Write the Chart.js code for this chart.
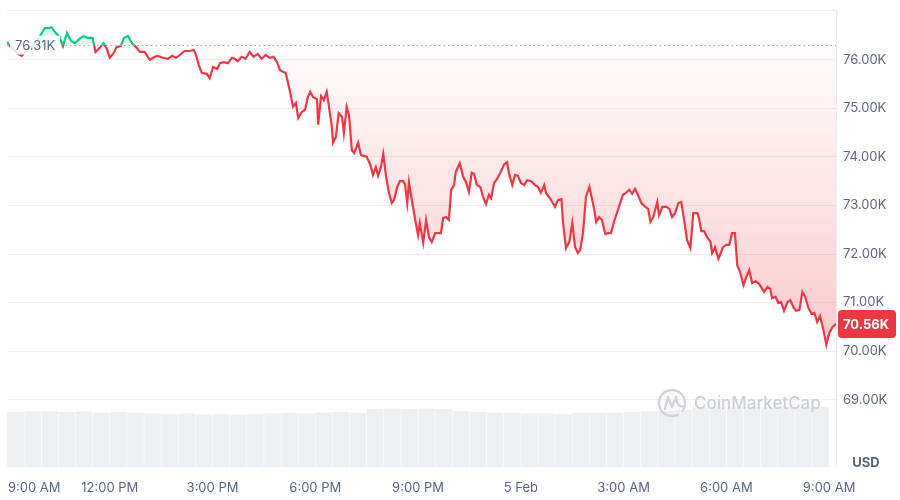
<!DOCTYPE html>
<html>
<head>
<meta charset="utf-8">
<script src="https://cdn.jsdelivr.net/npm/chart.js@4.4.1/dist/chart.umd.min.js"></script>
<style>
  html, body { margin: 0; padding: 0; background: #fff; }
  canvas { display: block; }
</style>
</head>
<body>
<canvas id="chart" width="900" height="500"></canvas>
<script>
// minutes after 9:00 AM
const times = [
  0, 5, 12, 19, 26, 33, 40, 47, 54, 61,
  66, 73, 78, 84, 92, 98, 105, 112, 119, 127,
  134, 141, 150, 155, 162, 169, 175, 180, 187, 192,
  199, 205, 212, 219, 226, 233, 241, 250, 259, 264,
  273, 282, 289, 296, 303, 311, 320, 327, 331, 336,
  341, 350, 355, 361, 368, 373, 380, 387, 394, 399,
  404, 411, 418, 425, 432, 439, 446, 453, 460, 467,
  473, 478, 483, 488, 495, 501, 506, 510, 516, 522,
  527, 531, 536, 543, 545, 550, 555, 560, 564, 569,
  571, 576, 581, 587, 590, 595, 599, 604, 608, 615,
  620, 625, 630, 636, 641, 646, 650, 655, 659, 664,
  669, 674, 678, 683, 688, 694, 697, 701, 704, 709,
  715, 720, 723, 729, 734, 739, 744, 750, 755, 760,
  764, 769, 774, 778, 783, 786, 793, 799, 804, 809,
  814, 818, 823, 829, 834, 839, 844, 848, 853, 858,
  864, 871, 876, 879, 885, 890, 895, 900, 906, 911,
  918, 925, 930, 935, 941, 944, 948, 951, 956, 960,
  965, 971, 974, 979, 985, 990, 995, 1000, 1004, 1009,
  1014, 1020, 1025, 1028, 1032, 1037, 1042, 1048, 1053, 1058,
  1063, 1069, 1074, 1079, 1084, 1090, 1095, 1100, 1105, 1111,
  1118, 1123, 1127, 1132, 1139, 1142, 1148, 1155, 1160, 1165,
  1170, 1176, 1181, 1186, 1191, 1197, 1202, 1209, 1212, 1216,
  1221, 1226, 1232, 1235, 1240, 1246, 1249, 1254, 1260, 1265,
  1270, 1275, 1279, 1284, 1290, 1295, 1300, 1305, 1311, 1316,
  1321, 1326, 1332, 1337, 1340, 1346, 1351, 1356, 1361, 1367,
  1372, 1377, 1382, 1388, 1393, 1398, 1403, 1409, 1414, 1419,
  1424, 1430, 1435, 1440, 1446, 1452
];

const prices = [
  76370, 76280, 76200, 76120, 76080, 76180, 76260, 76300, 76410, 76550,
  76650, 76650, 76670, 76570, 76470, 76280, 76550, 76390, 76340, 76430,
  76490, 76450, 76450, 76160, 76240, 76340, 76220, 76040, 76140, 76260,
  76280, 76450, 76490, 76340, 76260, 76160, 76160, 76000, 76060, 76080,
  76040, 76020, 76080, 76040, 76100, 76180, 76180, 76200, 76100, 75890,
  75730, 75710, 75620, 75850, 75810, 75930, 75950, 75930, 76040, 76020,
  75970, 76060, 76020, 76160, 76060, 76120, 76020, 76100, 76040, 76060,
  75950, 75790, 75750, 75730, 75380, 75030, 75110, 74800, 74920, 74970,
  75230, 75340, 75230, 75190, 74660, 75250, 75170, 75340, 75030, 74620,
  74290, 74410, 74900, 74820, 74490, 75030, 74860, 74140, 74080, 74290,
  74040, 74020, 74000, 73850, 73630, 73790, 73610, 73790, 74060, 73590,
  73260, 73050, 73110, 73360, 73500, 73500, 73440, 73050, 73480, 73110,
  72700, 72390, 72640, 72230, 72700, 72350, 72250, 72430, 72430, 72430,
  72740, 72760, 72700, 73320, 73420, 73690, 73870, 73590, 73480, 73280,
  73670, 73650, 73420, 73380, 73170, 73030, 73220, 73150, 73460, 73540,
  73670, 73850, 73890, 73670, 73420, 73630, 73610, 73460, 73420, 73520,
  73500, 73420, 73380, 73260, 73420, 73260, 73190, 73150, 73050, 72970,
  73110, 73130, 72640, 72120, 72250, 72640, 72140, 72020, 72080, 72450,
  73170, 73380, 73110, 72950, 72660, 72760, 72700, 72410, 72430, 72430,
  72660, 72870, 73050, 73220, 73260, 73320, 73240, 73340, 73220, 73050,
  72970, 72930, 72660, 72760, 73070, 72800, 72970, 72970, 72930, 72760,
  72840, 73050, 73070, 72700, 72290, 72120, 72840, 72840, 72740, 72470,
  72470, 72350, 72250, 72020, 72140, 71900, 71980, 72140, 72190, 72190,
  72430, 72430, 71770, 71630, 71360, 71530, 71670, 71400, 71440, 71400,
  71320, 71220, 71320, 71280, 71090, 71120, 70990, 71010, 70830, 71010,
  71050, 70910, 70830, 70850, 71220, 71120, 70910, 70770, 70790, 70600,
  70720, 70440, 70130, 70370, 70500, 70560
];

// one bar per 30 minutes
const volumes = [
  55, 55.5, 56, 55, 55.5, 54.5, 55, 54, 53.5, 53,
  53.5, 52.5, 53, 52.5, 53, 53.5, 54, 53.5, 54.5, 55,
  54, 58, 58.5, 58, 58.5, 58, 56, 55, 54.5, 54,
  53.5, 53.5, 53, 54, 54, 54.5, 55, 55.5, 56, 57,
  59, 59.5, 59.5, 60, 59.5, 60, 59.5, 60
];

const xTickMinutes = [0, 180, 360, 540, 720, 900, 1080, 1260, 1440];
const xTickLabels = ["9:00 AM", "12:00 PM", "3:00 PM", "6:00 PM", "9:00 PM", "5 Feb", "3:00 AM", "6:00 AM", "9:00 AM"];
const yTickValues = [69000, 70000, 71000, 72000, 73000, 74000, 75000, 76000];

const openPrice = 76310;
const lastPrice = 70560;

const RED = "#ea3943";
const GREEN = "#16c784";
const TEXT = "#58667e";

Chart.defaults.font.family = "Inter, 'Noto Sans', sans-serif";
Chart.defaults.font.size = 13;
Chart.defaults.color = TEXT;

function fmtK(v) {
  return (v / 1000).toFixed(2) + "K";
}

function lineGradient(context) {
  const chart = context.chart;
  const { ctx, chartArea, scales } = chart;
  if (!chartArea) return RED;
  const basePx = scales.y.getPixelForValue(openPrice);
  const stop = (basePx - chartArea.top) / (chartArea.bottom - chartArea.top);
  const g = ctx.createLinearGradient(0, chartArea.top, 0, chartArea.bottom);
  g.addColorStop(0, GREEN);
  g.addColorStop(stop, GREEN);
  g.addColorStop(stop, RED);
  g.addColorStop(1, RED);
  return g;
}

function fillGradient(context) {
  const chart = context.chart;
  const { ctx, chartArea, scales } = chart;
  if (!chartArea) return "rgba(234,57,67,0.1)";
  const top = scales.y.getPixelForValue(openPrice);
  const bottom = scales.y.getPixelForValue(70000);
  const g = ctx.createLinearGradient(0, top, 0, bottom);
  g.addColorStop(0, "rgba(234,57,67,0.01)");
  g.addColorStop(1, "rgba(234,57,67,0.27)");
  return g;
}

const decor = {
  id: "decor",
  beforeDatasetsDraw(chart) {
    const { ctx, chartArea } = chart;
    // top border
    ctx.save();
    ctx.strokeStyle = "#e9ecf0";
    ctx.lineWidth = 1;
    ctx.beginPath();
    ctx.moveTo(chartArea.left, chartArea.top + 0.5);
    ctx.lineTo(chartArea.right, chartArea.top + 0.5);
    ctx.stroke();
    ctx.restore();
  },
  afterDatasetsDraw(chart) {
    const { ctx, chartArea, scales } = chart;
    const basePx = Math.round(scales.y.getPixelForValue(openPrice)) + 0.5;

    // dotted open-price line
    ctx.save();
    ctx.strokeStyle = "#a1a9b7";
    ctx.lineWidth = 1;
    ctx.setLineDash([1.5, 3]);
    ctx.beginPath();
    ctx.moveTo(chartArea.left, basePx);
    ctx.lineTo(chartArea.right, basePx);
    ctx.stroke();
    ctx.restore();

    // watermark
    ctx.save();
    const wx = 672, wy = 403;
    ctx.strokeStyle = "#cfd4dc";
    ctx.lineWidth = 2.4;
    ctx.lineCap = "round";
    ctx.lineJoin = "round";
    ctx.beginPath();
    ctx.arc(wx, wy, 13, 0.35 * Math.PI, 2.2 * Math.PI);
    ctx.stroke();
    ctx.beginPath();
    ctx.moveTo(wx - 7, wy + 6);
    ctx.lineTo(wx - 4, wy - 6);
    ctx.lineTo(wx, wy + 4);
    ctx.lineTo(wx + 4, wy - 6);
    ctx.quadraticCurveTo(wx + 6, wy + 6, wx + 12, wy + 3);
    ctx.stroke();
    ctx.fillStyle = "#c9ced7";
    ctx.font = "500 17px Inter, sans-serif";
    ctx.textAlign = "left";
    ctx.textBaseline = "middle";
    ctx.fillText("CoinMarketCap", 694, wy + 1);
    ctx.restore();
  },
  afterDraw(chart) {
    const { ctx, chartArea, scales } = chart;
    const basePx = scales.y.getPixelForValue(openPrice);

    // open price label
    ctx.save();
    ctx.fillStyle = "rgba(255,255,255,0.85)";
    ctx.fillRect(chartArea.left + 3, basePx - 9, 50, 19);
    ctx.fillStyle = TEXT;
    ctx.font = "13px Inter, sans-serif";
    ctx.textAlign = "left";
    ctx.textBaseline = "middle";
    ctx.fillText(fmtK(openPrice), chartArea.left + 8, basePx + 1);

    // last price badge
    const lastPx = scales.y.getPixelForValue(lastPrice);
    ctx.fillStyle = RED;
    ctx.beginPath();
    ctx.roundRect(chartArea.right + 2, lastPx - 14, 58, 28, 4);
    ctx.fill();
    ctx.fillStyle = "#ffffff";
    ctx.font = "bold 13px Inter, sans-serif";
    ctx.fillText(fmtK(lastPrice), chartArea.right + 7, lastPx + 1);

    // currency
    ctx.fillStyle = TEXT;
    ctx.font = "bold 13px Inter, sans-serif";
    ctx.textAlign = "center";
    ctx.fillText("USD", chartArea.right + 30, 463);

    // time labels
    ctx.font = "13px Inter, sans-serif";
    xTickMinutes.forEach((m, i) => {
      const px = scales.x.getPixelForValue(m);
      ctx.textAlign = i === 0 ? "left" : "center";
      ctx.fillText(xTickLabels[i], i === 0 ? px + 1 : px, 488);
    });
    ctx.restore();
  },
};

const canvas = document.querySelector("#chart");

new Chart(canvas, {
  type: "line",
  data: {
    datasets: [
      {
        type: "line",
        data: times.map((t, i) => ({ x: t, y: prices[i] })),
        borderColor: lineGradient,
        backgroundColor: fillGradient,
        borderWidth: 2.2,
        pointRadius: 0,
        tension: 0,
        fill: { target: { value: openPrice }, above: "rgba(22,199,132,0.14)" },
        order: 1,
      },
      {
        type: "bar",
        yAxisID: "yv",
        data: volumes.map((v, i) => ({ x: i * 30 + 15, y: v })),
        backgroundColor: "#edf0f3",
        barPercentage: 0.97,
        categoryPercentage: 1,
        order: 2,
      },
    ],
  },
  options: {
    responsive: false,
    animation: false,
    events: [],
    layout: {
      padding: { top: 10, bottom: 33, left: 7, right: 0 },
    },
    plugins: {
      legend: { display: false },
      tooltip: { enabled: false },
    },
    scales: {
      x: {
        type: "linear",
        display: false,
        min: 0,
        max: 1452,
        offset: false,
      },
      y: {
        position: "right",
        min: 67615,
        max: 77024,
        afterBuildTicks: (scale) => {
          scale.ticks = yTickValues.map((v) => ({ value: v }));
        },
        afterFit: (scale) => {
          scale.width = 64;
          scale.paddingTop = 0;
          scale.paddingBottom = 0;
        },
        ticks: {
          padding: 7,
          color: TEXT,
          callback: (v) => fmtK(v),
        },
        grid: {
          color: "#eef0f3",
          drawTicks: false,
        },
        border: {
          display: true,
          color: "#e9ecf0",
        },
      },
      yv: {
        display: false,
        min: 0,
        max: 457,
      },
    },
  },
  plugins: [decor],
});
</script>
</body>
</html>
